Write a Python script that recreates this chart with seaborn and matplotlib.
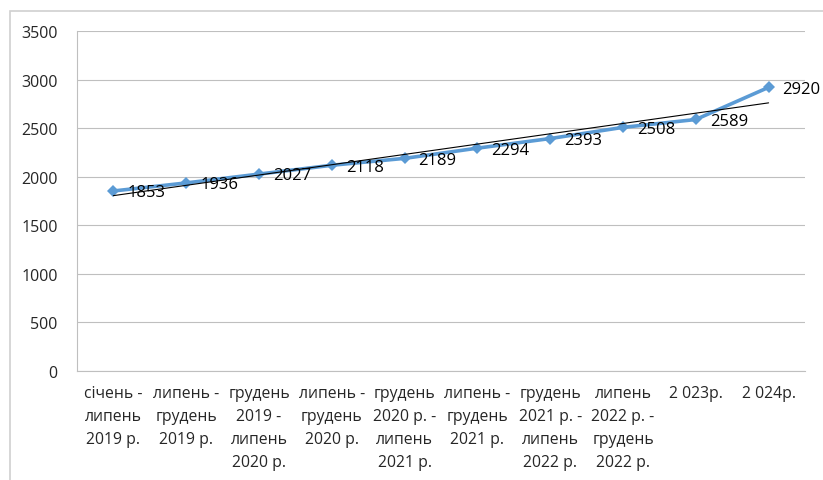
import numpy as np
import matplotlib
matplotlib.use("Agg")
import matplotlib.pyplot as plt
import matplotlib.patches as patches
import seaborn as sns

# period labels (x axis) and average values
periods = [
    "січень -\nлипень\n2019 р.",
    "липень -\nгрудень\n2019 р.",
    "грудень\n2019 -\nлипень\n2020 р.",
    "липень -\nгрудень\n2020 р.",
    "грудень\n2020 р. -\nлипень\n2021 р.",
    "липень -\nгрудень\n2021 р.",
    "грудень\n2021 р. -\nлипень\n2022 р.",
    "липень\n2022 р. -\nгрудень\n2022 р.",
    "2 023р.",
    "2 024р.",
]
values = [1853, 1936, 2027, 2118, 2189, 2294, 2393, 2508, 2589, 2920]
yticks = [0, 500, 1000, 1500, 2000, 2500, 3000, 3500]

sns.set_style("white")
plt.rcParams['font.family'] = ['Open Sans', 'DejaVu Sans']

W, H = 823, 481
fig = plt.figure(figsize=(W / 100, H / 100), dpi=100)
ax = fig.add_axes([77 / W, 1 - 372 / H, (805 - 77) / W, (372 - 32) / H])

# outer chart border
fig.patches.append(patches.Rectangle((10 / W, -0.05), 1.1, 1 - 12 / H + 0.05,
                                     transform=fig.transFigure, fill=False,
                                     edgecolor='#D0D0D0', lw=1.2))

xpos = np.arange(len(values))
sns.lineplot(x=xpos, y=values, ax=ax, color='#5B9BD5', lw=2.6,
             marker='D', markersize=6, markeredgewidth=0, zorder=3)
# linear trend line
sns.regplot(x=xpos, y=values, ax=ax, scatter=False, ci=None, truncate=True,
            color='black', line_kws={'lw': 0.8, 'zorder': 4})

for x, v in zip(xpos, values):
    ax.annotate(str(v), (x, v), xytext=(10, -1), textcoords='offset points',
                ha='left', va='center', fontsize=12, color='black', zorder=5)

ax.set_xlim(-0.5, len(values) - 0.5)
ax.set_ylim(0, 3500)
ax.set_yticks(yticks)
ax.set_xticks(xpos)
ax.set_xticklabels(periods, fontsize=11.3, linespacing=1.6, ha='center', va='top')
ax.set_xticks(np.arange(len(values) + 1) - 0.5, minor=True)
ax.tick_params(axis='x', which='major', length=0, pad=10)
ax.tick_params(axis='x', which='minor', length=5, color='#BFBFBF', width=0.8)
ax.tick_params(axis='y', length=5, color='#BFBFBF', width=0.8, pad=9, labelsize=11.5)
ax.set_xlabel("")
ax.set_ylabel("")

ax.yaxis.grid(True, color='#BFBFBF', lw=0.8)
ax.set_axisbelow(True)
for side in ['top', 'right']:
    ax.spines[side].set_visible(False)
for side in ['left', 'bottom']:
    ax.spines[side].set_color('#BFBFBF')
    ax.spines[side].set_linewidth(0.8)

fig.savefig("out.png", dpi=100)
